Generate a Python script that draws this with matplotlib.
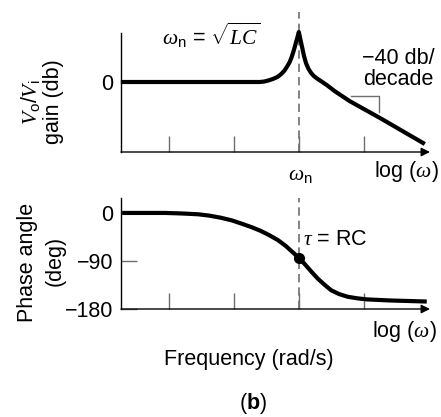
import matplotlib
matplotlib.use('Agg')
import matplotlib.pyplot as plt

plt.rcParams['font.family'] = ['Liberation Sans', 'DejaVu Sans']
plt.rcParams['mathtext.fontset'] = 'custom'
plt.rcParams['mathtext.rm'] = 'Liberation Sans'
plt.rcParams['mathtext.it'] = 'Liberation Serif:italic'
plt.rcParams['mathtext.bf'] = 'Liberation Sans:bold'
plt.rcParams['mathtext.sf'] = 'Liberation Sans'

# x in decades of log(omega); omega_n sits at 3
W_N = 3.0
X_TICKS = [1, 2, 3, 4]

# gain curve (db)
gain_x = [0.26, 2.40, 2.47, 2.53, 2.60, 2.67, 2.73, 2.78, 2.82, 2.86, 2.89,
          2.92, 2.95, 2.98, 3.00, 3.02, 3.05, 3.08, 3.11, 3.15, 3.19, 3.23,
          3.28, 3.35, 3.43, 3.55, 3.78, 4.25, 4.94]
gain_db = [0, 0, 0.5, 1.5, 3, 5, 8, 11.5, 15.5, 20, 25, 31, 38, 45, 50, 44,
           35, 26, 19, 13, 9, 6, 3.5, 0.5, -3, -9, -19, -36, -62]

# phase curve (deg)
phase_x = [0.28, 0.94, 1.20, 1.45, 1.62, 1.80, 1.97, 2.13, 2.28, 2.42, 2.55,
           2.68, 2.80, 2.90, 3.00, 3.10, 3.20, 3.30, 3.40, 3.50, 3.62, 3.75,
           3.90, 4.05, 4.40, 4.97]
phase_deg = [0, 0, -1, -2.5, -5, -9, -14, -20.5, -27, -34, -42, -51, -62,
             -73, -84, -97, -111, -124, -135, -145, -152, -157, -160, -162,
             -164, -166]
tau_point = (3.0, -84)

# -40 db/decade slope marker
slope_x = [3.80, 4.23, 4.23]
slope_y = [-14, -14, -30]

W, H = 441, 417
fig = plt.figure(figsize=(W / 100, H / 100), dpi=100)


def fpos(x, y):
    return x / W, 1 - y / H


FS = 15.5
GRAY = '#6e6e6e'


def style_axes(ax, ylo, yhi):
    for s in ['top', 'right', 'bottom']:
        ax.spines[s].set_visible(False)
    ax.spines['left'].set_linewidth(1.0)
    ax.set_xlim(0.262, 5.02)
    ax.set_xticks(X_TICKS)
    ax.set_xticklabels([])
    ax.tick_params(axis='x', direction='in', length=11.5, width=1.0, color=GRAY)
    ax.tick_params(axis='y', direction='in', length=11.5, width=1.0, color=GRAY,
                   labelsize=FS, pad=5.5)
    ax.annotate('', xy=(5.02, ylo), xytext=(0.262, ylo),
                arrowprops=dict(arrowstyle='-|>', color='black', lw=1.0,
                                shrinkA=0, shrinkB=0, mutation_scale=13),
                annotation_clip=False)
    ax.axvline(W_N, color=GRAY, lw=1.2, ls=(0, (5, 3)), zorder=1)
    ax.patch.set_visible(False)


# top: gain
ax1 = fig.add_axes([121 / W, 1 - 152 / H, 309 / W, 140 / H])
ax1.set_ylim(-70, 70)
style_axes(ax1, -70, 70)
ax1.spines['left'].set_bounds(-70, 49)
ax1.set_yticks([0])
ax1.set_yticklabels(['0'])
ax1.plot(gain_x, gain_db, color='black', lw=3, solid_joinstyle='round',
         solid_capstyle='butt', zorder=3, clip_on=False)
ax1.plot(slope_x, slope_y, color=GRAY, lw=1.0)

# bottom: phase
ax2 = fig.add_axes([121 / W, 1 - 309 / H, 309 / W, 111 / H])
ax2.set_ylim(-180, 28)
style_axes(ax2, -180, 28)
ax2.set_yticks([0, -90, -180])
ax2.set_yticklabels(['0', '\u221290', '\u2212180'])
ax2.plot(phase_x, phase_deg, color='black', lw=3, solid_joinstyle='round',
         solid_capstyle='butt', zorder=3, clip_on=False)
ax2.plot(*tau_point, 'o', color='black', ms=7, zorder=4)

# texts
fig.text(*fpos(162, 45), r'$\omega_{\mathrm{n}}$ = $\sqrt{LC}$', fontsize=FS,
         ha='left', va='baseline')
fig.text(*fpos(362, 64), '\u221240 db/', fontsize=FS, ha='left', va='baseline')
fig.text(*fpos(363, 85), 'decade', fontsize=FS, ha='left', va='baseline')
fig.text(*fpos(288, 180), r'$\omega_{\mathrm{n}}$', fontsize=FS, ha='left',
         va='baseline')
fig.text(*fpos(374, 177), r'log ($\omega$)', fontsize=FS, ha='left', va='baseline')
fig.text(*fpos(30, 102), r'$V_{\mathrm{o}}/V_{\mathrm{i}}$', fontsize=FS,
         rotation=90, ha='center', va='center')
fig.text(*fpos(53, 102), 'gain (db)', fontsize=FS, rotation=90, ha='center',
         va='center')

fig.text(*fpos(303, 245), r'$\tau$ = RC', fontsize=FS, ha='left', va='baseline')
fig.text(*fpos(372, 337), r'log ($\omega$)', fontsize=FS, ha='left', va='baseline')
fig.text(*fpos(28, 262), 'Phase angle', fontsize=FS, rotation=90, ha='center',
         va='center')
fig.text(*fpos(55, 261), '(deg)', fontsize=FS, rotation=90, ha='center',
         va='center')
fig.text(*fpos(249, 365), 'Frequency (rad/s)', fontsize=FS, ha='center',
         va='baseline')
fig.text(*fpos(253, 409), r'($\mathbf{b}$)', fontsize=FS, ha='center',
         va='baseline')

fig.savefig('out.png', dpi=100)
